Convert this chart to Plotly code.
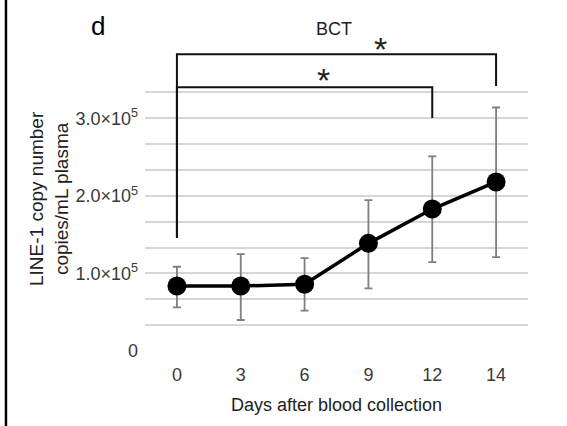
import plotly.graph_objects as go

# ---- data ----
days = ["0", "3", "6", "9", "12", "14"]
mean_copies = [0.838e5, 0.838e5, 0.860e5, 1.388e5, 1.830e5, 2.180e5]
upper_copies = [1.086e5, 1.250e5, 1.198e5, 1.946e5, 2.510e5, 3.140e5]
lower_copies = [0.563e5, 0.400e5, 0.520e5, 0.808e5, 1.147e5, 1.210e5]

ytick_vals = [0, 1e5, 2e5, 3e5]
ytick_text = ["0", "1.0×10<sup>5</sup>", "2.0×10<sup>5</sup>", "3.0×10<sup>5</sup>"]
minor_grid_vals = [1e5 / 3, 2e5 / 3, 4e5 / 3, 5e5 / 3, 7e5 / 3, 8e5 / 3, 10e5 / 3]

# significance brackets: (from day, to day, bar height, left-leg bottom, right-leg bottom)
bracket_from = ["0", "0"]
bracket_to = ["12", "14"]
bracket_height = [3.40e5, 3.826e5]
bracket_left_bottom = [1.457e5, 1.457e5]
bracket_right_bottom = [3.004e5, 3.417e5]

TXT = "#3a3a3a"
FONT = "Liberation Sans, Arial, sans-serif"

fig = go.Figure()

for a, b, h, lb, rb in zip(bracket_from, bracket_to, bracket_height,
                           bracket_left_bottom, bracket_right_bottom):
    fig.add_trace(go.Scatter(
        x=[a, a, b, b], y=[lb, h, h, rb], mode="lines",
        line=dict(color="#111111", width=2), hoverinfo="skip", showlegend=False))

err_plus = [u - m for u, m in zip(upper_copies, mean_copies)]
err_minus = [m - l for m, l in zip(mean_copies, lower_copies)]

fig.add_trace(go.Scatter(
    x=days, y=mean_copies, mode="lines+markers",
    line=dict(color="black", width=3.5),
    marker=dict(color="black", size=19),
    error_y=dict(type="data", symmetric=False, array=err_plus, arrayminus=err_minus,
                 color="#7f7f7f", thickness=1.8, width=4),
    showlegend=False))

fig.update_layout(
    width=567, height=426,
    margin=dict(l=145, r=39, t=2, b=75),
    paper_bgcolor="white", plot_bgcolor="white",
    font=dict(family=FONT, size=18, color=TXT),
    xaxis=dict(type="category", categoryorder="array", categoryarray=days,
               range=[-0.5, 5.5], showgrid=False, zeroline=False, showline=False,
               ticks="", tickfont=dict(size=18, color=TXT), ticklabelstandoff=11),
    yaxis=dict(range=[0, 4.5e5], tickmode="array", tickvals=ytick_vals,
               ticktext=ytick_text, showgrid=True, gridcolor="#d6d6d6", gridwidth=2,
               zeroline=False, showline=False, ticks="",
               tickfont=dict(size=18, color=TXT), ticklabelstandoff=6,
               minor=dict(tickmode="array", tickvals=minor_grid_vals, showgrid=True,
                          gridcolor="#d6d6d6", gridwidth=2, ticks="")),
    shapes=[dict(type="line", xref="paper", yref="paper",
                 x0=-0.363, x1=-0.363, y0=-0.5, y1=1.5,
                 line=dict(color="black", width=2.5))],
    annotations=[
        dict(text="d", xref="paper", yref="paper", x=(98 - 145) / 383, y=(351 - 26) / 349,
             showarrow=False, font=dict(size=26, color="black"),
             xanchor="center", yanchor="middle"),
        dict(text="BCT", xref="paper", yref="paper", x=(333.7 - 145) / 383,
             y=(351 - 29.5) / 349, showarrow=False, font=dict(size=18, color="#222222"),
             xanchor="center", yanchor="middle"),
        dict(text="*", xref="paper", yref="paper", x=(380.3 - 145) / 383,
             y=(351 - 44.7) / 349, yshift=-4.5, showarrow=False,
             font=dict(size=34, color="#222222"), xanchor="center", yanchor="middle"),
        dict(text="*", xref="paper", yref="paper", x=(323 - 145) / 383,
             y=(351 - 75) / 349, yshift=-4.5, showarrow=False,
             font=dict(size=34, color="#222222"), xanchor="center", yanchor="middle"),
        dict(text="LINE-1 copy number<br>copies/mL plasma", xref="paper", yref="paper",
             x=(49 - 145) / 383, y=(351 - 199) / 349, textangle=-90, showarrow=False,
             font=dict(size=19, color="#222222"), xanchor="center", yanchor="middle"),
        dict(text="Days after blood collection", xref="paper", yref="paper",
             x=0.5, y=(351 - 404.5) / 349, showarrow=False,
             font=dict(size=18, color="#222222"), xanchor="center", yanchor="middle"),
    ],
)

fig.write_html("out.html", config={"displayModeBar": False},
               post_script="document.body.style.margin='0';")
